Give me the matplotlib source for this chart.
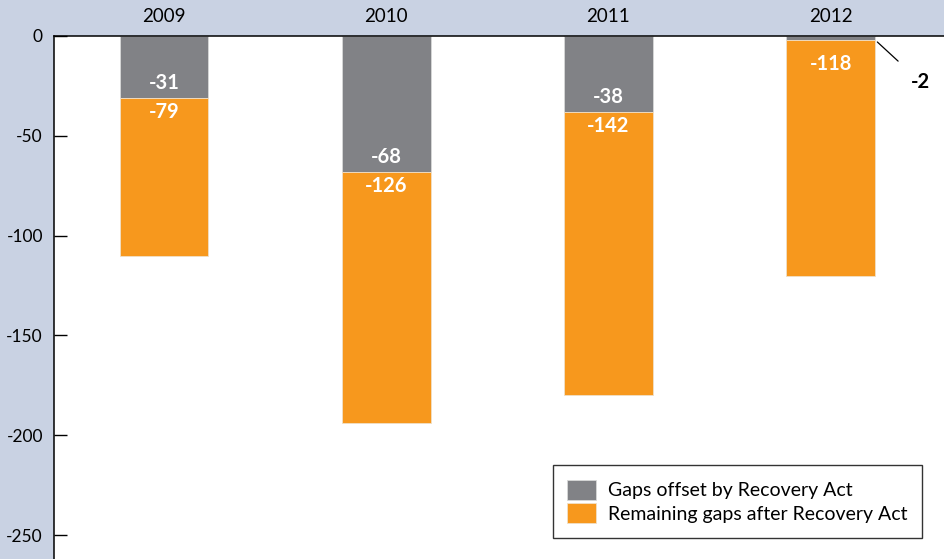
import matplotlib.pyplot as plt

plt.rcParams['font.family'] = ['Lato', 'DejaVu Sans']

gray = '#818286'
orange = '#f7981d'
background_color = '#c9d2e3'

years = ['2009', '2010', '2011', '2012']
offset_by_act = [-31, -68, -38, -2]
remaining_gaps = [-79, -126, -142, -118]

x = list(range(len(years)))
width = 0.4

fig = plt.figure(figsize=(9.44, 5.59), dpi=100)
fig.patch.set_facecolor(background_color)
ax = fig.add_axes([54 / 944, 0, 1 - 54 / 944, 1 - 36 / 559])
ax.set_facecolor('white')

ax.bar(x, offset_by_act, width, color=gray, edgecolor='#d8d8d8', linewidth=0.6,
       label='Gaps offset by Recovery Act')
ax.bar(x, remaining_gaps, width, bottom=offset_by_act, color=orange, edgecolor='#f0e0c8',
       linewidth=0.6, label='Remaining gaps after Recovery Act')

ax.set_xlim(-0.495, 3.51)
ax.set_ylim(-262, 0)

# value labels
for xi, g, r in zip(x, offset_by_act, remaining_gaps):
    if abs(g) > 10:
        ax.text(xi, g + 7.5, str(g), ha='center', va='center', color='white',
                fontsize=14.5, fontweight='bold')
    else:
        ax.annotate(str(g), xy=(xi + width / 2 + 0.01, g - 1), xytext=(xi + 0.405, -23),
                    ha='center', va='center', fontsize=14.5, fontweight='bold', color='black',
                    arrowprops=dict(arrowstyle='-', color='black', lw=0.9,
                                    shrinkA=10, shrinkB=0))
    ax.text(xi, min(g - 7, -14), str(r), ha='center', va='center', color='white',
            fontsize=14.5, fontweight='bold')

ax.xaxis.tick_top()
ax.set_xticks(x)
ax.set_xticklabels(years, fontsize=13.5)
ax.tick_params(axis='x', length=0, pad=8)

ax.set_yticks([0, -50, -100, -150, -200, -250])
ax.set_yticklabels(['0', '-50', '-100', '-150', '-200', '-250'], fontsize=12.5)
ax.tick_params(axis='y', direction='in', length=9.4, width=1, pad=8)

for side in ('right', 'bottom'):
    ax.spines[side].set_visible(False)
for side in ('top', 'left'):
    ax.spines[side].set_linewidth(1.1)

leg = ax.legend(loc='lower right', bbox_to_anchor=(868 / 890, 21 / 523), borderaxespad=0,
                fontsize=14, frameon=True, fancybox=False, edgecolor='black',
                handlelength=1.5, handleheight=1.2, handletextpad=0.6, borderpad=0.75,
                labelspacing=0.2)
leg.get_frame().set_linewidth(1.0)

plt.savefig('out.png', dpi=100, facecolor=background_color)
